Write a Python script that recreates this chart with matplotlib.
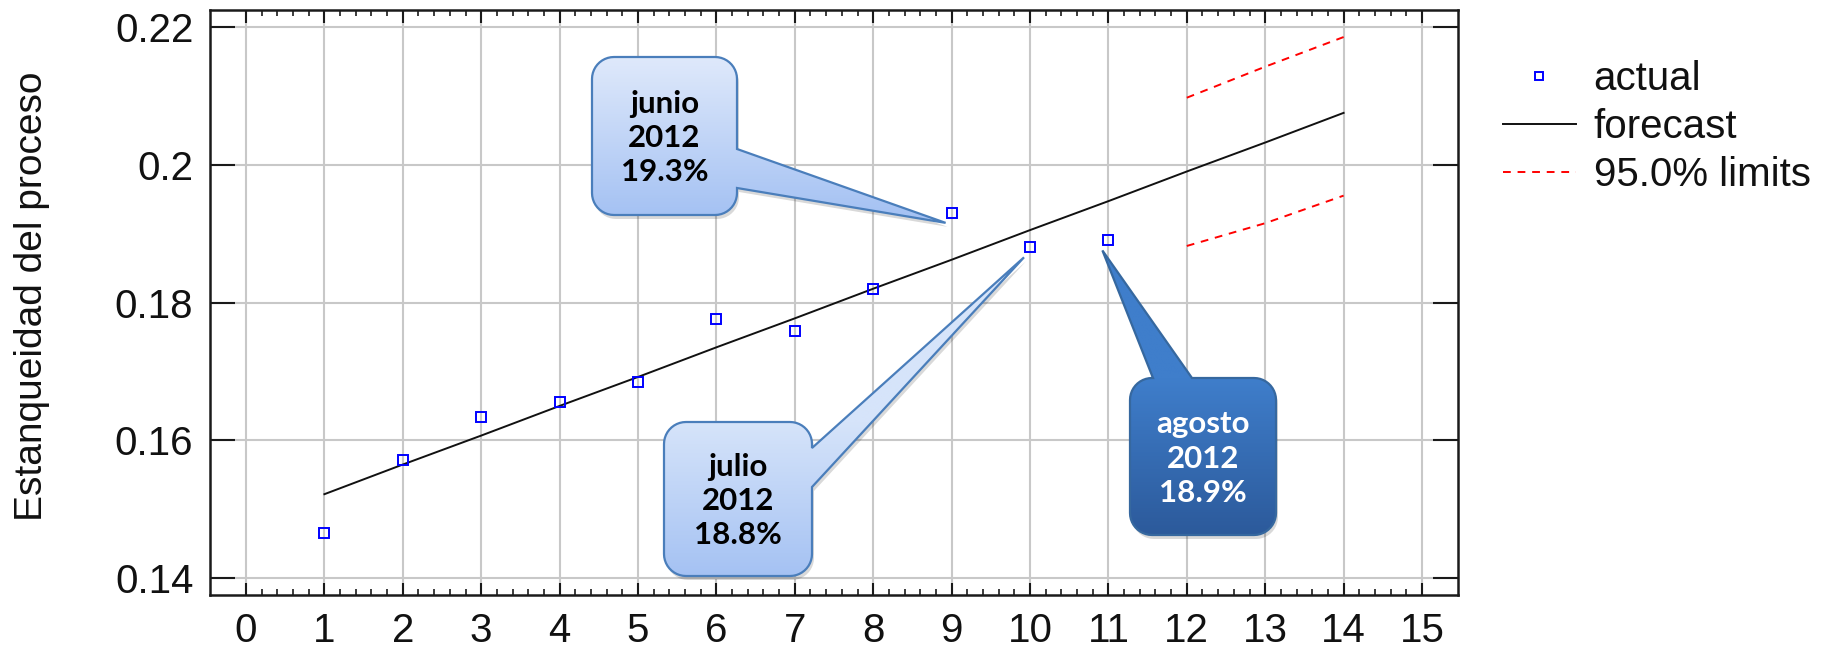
import numpy as np
import matplotlib
matplotlib.use('Agg')
import matplotlib.pyplot as plt
from matplotlib.patches import Polygon
from matplotlib.lines import Line2D
from matplotlib.colors import LinearSegmentedColormap
from matplotlib.ticker import FixedLocator, FuncFormatter

# Serie observada (estanqueidad por periodo)
periodo = [1, 2, 3, 4, 5, 6, 7, 8, 9, 10, 11]
actual = [0.1466, 0.1572, 0.1634, 0.1656, 0.1685, 0.1776, 0.1758, 0.1820,
          0.193, 0.188, 0.189]

# Tendencia lineal ajustada y pronostico
periodo_pron = [1, 2, 3, 4, 5, 6, 7, 8, 9, 10, 11, 12, 13, 14]
pronostico = [0.1522, 0.1565, 0.1607, 0.1650, 0.1692, 0.1735, 0.1777,
              0.1820, 0.1862, 0.1905, 0.1947, 0.1990, 0.2032, 0.2075]

# Limites del 95%
periodo_lim = [12, 13, 14]
lim_sup = [0.2097, 0.2142, 0.2185]
lim_inf = [0.1882, 0.1915, 0.1955]

x_ticks = list(range(0, 16))
y_ticks = [0.14, 0.16, 0.18, 0.2, 0.22]

# Globos de texto: mes y posicion del dato en la serie
meses = ['junio', 'julio', 'agosto']
idx_meses = [8, 9, 10]
anio = '2012'

W, H = 1837, 648
fig = plt.figure(figsize=(W / 100, H / 100), dpi=100)
ax = fig.add_axes([210 / W, 1 - 595 / H, 1248 / W, 585 / H])
ax.set_xlim(-0.459, 15.459)
ax.set_ylim(0.13758, 0.22242)

# ejes y rejilla
for s in ax.spines.values():
    s.set_linewidth(1.8)
    s.set_color('#1a1a1a')
ax.xaxis.set_major_locator(FixedLocator(x_ticks))
ax.xaxis.set_minor_locator(FixedLocator([i + k / 5 for i in x_ticks[:-1] for k in range(1, 5)]))
ax.yaxis.set_major_locator(FixedLocator(y_ticks))
ax.yaxis.set_major_formatter(FuncFormatter(lambda v, p: f'{v:g}'))
ax.tick_params(axis='x', which='major', direction='in', top=True, length=9, width=1.5,
               pad=12, labelsize=29, labelcolor='#111111', color='#1a1a1a')
ax.tick_params(axis='x', which='minor', direction='in', top=True, length=4.5, width=1.2,
               color='#1a1a1a')
ax.tick_params(axis='y', which='major', direction='in', right=True, length=18, width=1.5,
               pad=12, labelsize=29, labelcolor='#111111', color='#1a1a1a')
ax.grid(True, which='major', color='#c8c8c8', linewidth=1.5)
ax.set_axisbelow(True)
for lab in ax.get_xticklabels() + ax.get_yticklabels():
    lab.set_fontfamily('Liberation Sans')

ax.set_ylabel('Estanqueidad del proceso', fontsize=28, family='Liberation Sans',
              color='#111111')
ax.yaxis.set_label_coords(-0.128, 0.511)

# datos
ax.plot(periodo_pron, pronostico, color='#111111', linewidth=1.4, zorder=2)
ax.plot(periodo_lim, lim_sup, color='#ff0000', linewidth=1.4, dashes=(4, 3.5), zorder=2)
ax.plot(periodo_lim, lim_inf, color='#ff0000', linewidth=1.4, dashes=(4, 3.5), zorder=2)
ax.plot(periodo, actual, linestyle='none', marker='s', markersize=6.5,
        markerfacecolor='none', markeredgecolor='#0000ff', markeredgewidth=1.4, zorder=5)


def px_to_data(px, py):
    # pixeles desde la esquina superior izquierda -> coordenadas de datos
    return ax.transData.inverted().transform((px, H - py))


def data_to_px(x, y):
    dx, dy = ax.transData.transform((x, y))
    return dx, H - dy


def contorno(left, top, right, bottom, r, lado, base, punta):
    pts = []

    def arco(cx, cy, a0, a1):
        for a in np.radians(np.linspace(a0, a1, 12)):
            pts.append((cx + r * np.cos(a), cy + r * np.sin(a)))

    arco(left + r, top + r, 180, 270)
    if lado == 'top':
        pts += [(base[0], top), punta, (base[1], top)]
    arco(right - r, top + r, 270, 360)
    if lado == 'right':
        pts += [(right, base[0]), punta, (right, base[1])]
    arco(right - r, bottom - r, 0, 90)
    arco(left + r, bottom - r, 90, 180)
    return np.array(pts)


def globo(caja, lado, base, idx, mes, c_sup, c_inf, borde, c_texto):
    left, top, right, bottom = caja
    px, py = data_to_px(periodo[idx], actual[idx])
    punta = (px - 6, py + 10)
    pts = contorno(left, top, right, bottom, 22, lado, base, punta)

    sombra = np.array([px_to_data(x + 2, y + 4) for x, y in pts])
    ax.add_patch(Polygon(sombra, closed=True, facecolor='#000000', alpha=0.15,
                         edgecolor='none', zorder=3))

    verts = np.array([px_to_data(x, y) for x, y in pts])
    poly = Polygon(verts, closed=True, facecolor='none', edgecolor=borde,
                   linewidth=1.6, zorder=3.2)
    ax.add_patch(poly)

    y0, y1 = pts[:, 1].min(), pts[:, 1].max()
    filas = np.linspace(y0, y1, 300)
    t = np.clip((filas - top) / (bottom - top), 0, 1).reshape(-1, 1)
    cmap = LinearSegmentedColormap.from_list('g', [c_sup, c_inf])
    xa, ya = px_to_data(pts[:, 0].min(), y1)
    xb, yb = px_to_data(pts[:, 0].max(), y0)
    img = ax.imshow(t, cmap=cmap, vmin=0, vmax=1, extent=(xa, xb, ya, yb),
                    origin='upper', aspect='auto', zorder=3.1, interpolation='bilinear')
    img.set_clip_path(poly)

    cx, cy = px_to_data((left + right) / 2, (top + bottom) / 2 + 2)
    texto = f'{mes}\n{anio}\n{actual[idx] * 100:.1f}%'
    ax.text(cx, cy, texto, ha='center', va='center', fontsize=22.5, fontweight='bold',
            family='Lato', color=c_texto, linespacing=1.28, zorder=3.3)


globo((592, 57, 737, 215), 'right', (149, 188), idx_meses[0], meses[0],
      '#dfe9fb', '#a5c2f3', '#4a7ebb', '#000000')
globo((664, 422, 812, 576), 'right', (448, 487), idx_meses[1], meses[1],
      '#d6e4fa', '#a5c2f3', '#4a7ebb', '#000000')
globo((1130, 378, 1276, 535), 'top', (1153, 1192), idx_meses[2], meses[2],
      '#3f7ecb', '#2c5a9b', '#36689f', '#ffffff')

ax.set_xlim(-0.459, 15.459)
ax.set_ylim(0.13758, 0.22242)

# leyenda
handles = [
    Line2D([], [], linestyle='none', marker='s', markersize=6, markerfacecolor='none',
           markeredgecolor='#0000ff', markeredgewidth=1.4),
    Line2D([], [], color='#111111', linewidth=1.4),
    Line2D([], [], color='#ff0000', linewidth=1.4, dashes=(4, 3.5)),
]
fig.legend(handles, ['actual', 'forecast', '95.0% limits'], loc='upper left',
           bbox_to_anchor=(1503 / W, 1 - 60 / H), frameon=False, borderpad=0,
           borderaxespad=0, handlelength=1.8, handletextpad=0.45, labelspacing=0.25,
           prop={'family': 'Liberation Sans', 'size': 29}, labelcolor='#111111')

fig.savefig('out.png', dpi=100)
